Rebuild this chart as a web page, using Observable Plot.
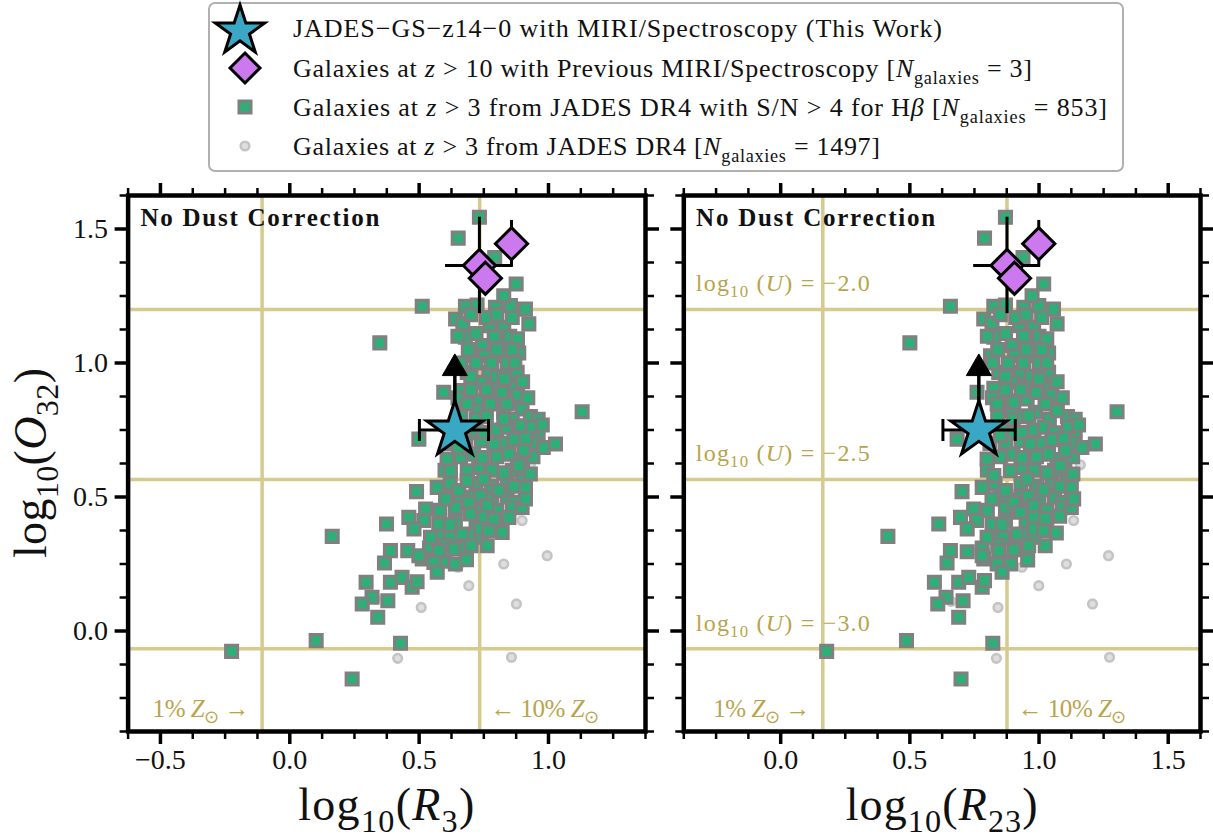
<!DOCTYPE html>
<html><head><meta charset="utf-8">
<script src="https://cdn.jsdelivr.net/npm/d3@7"></script>
<script src="https://cdn.jsdelivr.net/npm/@observablehq/plot@0.6"></script>
<style>
body{margin:0;background:#fff;}
#wrap{position:relative;width:1213px;height:838px;overflow:hidden;font-family:"Liberation Serif",serif;}
#wrap svg{position:absolute;overflow:visible;}
</style></head><body><div id="wrap"></div>
<script>
// ---------------- DATA ----------------
// JADES DR4 galaxies with S/N>4 for Hbeta : [log10 R3, log10 O32]
const sqLeft = [
[0.733,1.544],[0.651,1.466],[0.792,1.394],[0.875,1.295],[0.512,1.212],[0.348,1.075],[0.679,1.212],[0.724,1.216],[0.795,1.208],[0.853,1.214],[0.827,1.251],[0.911,1.201],[0.924,1.146],[0.641,1.164],[0.669,1.146],[0.773,1.139],[0.827,1.133],[0.679,1.096],[0.744,1.065],[0.827,1.077],[0.699,1.027],[0.753,1.027],[0.821,1.027],[0.885,1.037],[0.686,0.965],[0.769,0.965],[0.847,0.984],[0.879,0.965],[0.737,0.928],[0.789,0.915],[0.866,0.909],[0.595,0.891],[0.660,0.897],[0.679,0.853],[0.724,0.859],[0.789,0.866],[0.853,0.853],[0.898,0.828],[0.724,0.822],[1.130,0.818],[0.827,0.816],
[0.70,1.18],[0.76,1.17],[0.80,1.18],[0.86,1.17],[0.65,1.10],[0.72,1.11],[0.79,1.10],[0.85,1.10],[0.88,1.09],[0.69,1.05],[0.80,1.05],[0.86,1.05],[0.66,1.00],[0.72,1.00],[0.78,1.00],[0.84,1.00],[0.87,1.00],[0.70,0.95],[0.80,0.95],[0.83,0.94],[0.90,0.93],[0.70,0.90],[0.76,0.90],[0.82,0.89],[0.88,0.88],[0.65,0.87],[0.92,0.87],[0.66,0.80],[0.72,0.79],[0.76,0.80],[0.86,0.79],[0.93,0.80],[0.96,0.79],[0.68,0.75],[0.72,0.74],[0.80,0.75],[0.84,0.76],[0.88,0.74],[0.96,0.74],[0.62,0.70],[0.68,0.70],[0.74,0.71],[0.82,0.70],[0.94,0.70],[0.66,0.65],[0.71,0.66],[0.80,0.65],[0.88,0.64],[0.94,0.65],[0.60,0.60],[0.73,0.61],[0.78,0.60],[0.86,0.60],[0.90,0.60],[0.62,0.55],[0.72,0.55],[0.78,0.54],[0.84,0.55],[0.90,0.56],[0.63,0.50],[0.66,0.49],[0.71,0.50],[0.78,0.49],[0.84,0.50],[0.87,0.48],[0.58,0.45],[0.64,0.46],[0.72,0.45],[0.80,0.45],[0.86,0.46],[0.64,0.41],[0.72,0.41],[0.80,0.40],[0.58,0.36],[0.62,0.35],[0.70,0.36],[0.74,0.35],[0.54,0.31],[0.60,0.32],[0.67,0.31],[0.60,0.26],[0.64,0.25],
[0.499,0.716],[0.686,0.847],[0.776,0.847],[0.840,0.847],[0.827,0.791],[0.892,0.766],[0.937,0.760],[0.976,0.769],[0.750,0.741],[0.789,0.698],[0.866,0.714],[0.911,0.719],[0.980,0.685],[1.027,0.698],[0.608,0.642],[0.653,0.685],[0.744,0.647],[0.847,0.660],[0.905,0.673],[0.885,0.617],[0.930,0.586],[0.686,0.598],[0.621,0.598],[0.827,0.590],[0.750,0.567],[0.570,0.536],[0.653,0.524],[0.686,0.561],[0.737,0.505],[0.808,0.524],[0.866,0.540],[0.911,0.536],[0.490,0.520],[0.602,0.493],[0.692,0.480],[0.763,0.468],[0.898,0.461],[0.911,0.493],[0.525,0.455],[0.460,0.424],[0.518,0.412],[0.576,0.399],[0.621,0.396],[0.698,0.437],[0.750,0.424],[0.789,0.418],[0.847,0.424],[0.374,0.399],[0.480,0.381],[0.544,0.350],[0.666,0.362],[0.737,0.381],[0.769,0.374],[0.821,0.368],[0.164,0.353],[0.389,0.300],[0.456,0.300],[0.512,0.269],[0.576,0.300],[0.634,0.306],[0.701,0.318],[0.763,0.318],[0.366,0.254],[0.499,0.281],[0.557,0.256],[0.683,0.266],[0.570,0.219],[0.295,0.182],[0.389,0.182],[0.434,0.200],[0.473,0.163],[0.492,0.184],[0.318,0.126],[0.280,0.101],[0.379,0.113],[0.340,0.051],[0.102,-0.036],[0.428,-0.046],[-0.225,-0.076],[0.241,-0.179]
];
// same sample : [log10 R23, log10 O32]
const sqRight = [
[0.870,1.544],[0.789,1.466],[0.938,1.394],[1.018,1.295],[0.657,1.212],[0.500,1.075],[0.825,1.212],[0.870,1.216],[0.941,1.208],[0.999,1.214],[0.973,1.251],[1.056,1.201],[1.070,1.146],[0.786,1.164],[0.818,1.149],[0.925,1.139],[0.979,1.133],[0.825,1.096],[0.896,1.065],[0.979,1.077],[0.812,1.027],[0.905,1.027],[0.973,1.027],[1.037,1.037],[0.844,0.965],[0.928,0.965],[1.005,0.984],[1.037,0.965],[0.896,0.928],[0.947,0.913],[1.018,0.909],[0.760,0.891],[0.825,0.906],[0.850,0.853],[0.896,0.859],[0.954,0.866],[1.024,0.853],[1.070,0.826],[0.896,0.822],[1.302,0.818],[0.986,0.816],
[0.85,1.18],[0.91,1.17],[0.95,1.18],[1.01,1.17],[0.80,1.10],[0.87,1.11],[0.94,1.10],[1.00,1.10],[1.03,1.09],[0.84,1.05],[0.95,1.05],[1.01,1.05],[0.82,1.00],[0.88,1.00],[0.94,1.00],[1.00,1.00],[1.03,1.00],[0.87,0.95],[0.97,0.95],[1.00,0.94],[1.07,0.93],[0.87,0.90],[0.93,0.90],[0.99,0.89],[1.05,0.88],[0.82,0.87],[1.09,0.87],[0.84,0.80],[0.90,0.79],[0.94,0.80],[1.04,0.79],[1.11,0.80],[1.14,0.79],[0.86,0.75],[0.90,0.74],[0.98,0.75],[1.02,0.76],[1.06,0.74],[1.14,0.74],[0.81,0.70],[0.87,0.70],[0.93,0.71],[1.01,0.70],[1.13,0.70],[0.85,0.65],[0.90,0.66],[0.99,0.65],[1.07,0.64],[1.13,0.65],[0.80,0.60],[0.93,0.61],[0.98,0.60],[1.06,0.60],[1.10,0.60],[0.83,0.55],[0.93,0.55],[0.99,0.54],[1.05,0.55],[1.11,0.56],[0.85,0.50],[0.88,0.49],[0.93,0.50],[1.00,0.49],[1.06,0.50],[1.09,0.48],[0.80,0.45],[0.87,0.46],[0.95,0.45],[1.03,0.45],[1.09,0.46],[0.87,0.41],[0.95,0.41],[1.03,0.40],[0.82,0.36],[0.86,0.35],[0.94,0.36],[0.98,0.35],[0.78,0.31],[0.84,0.32],[0.91,0.31],[0.85,0.26],[0.89,0.25],
[0.683,0.716],[0.838,0.847],[0.902,0.853],[0.960,0.803],[1.024,0.847],[1.070,0.822],[1.114,0.760],[1.153,0.769],[0.934,0.741],[0.966,0.698],[1.050,0.714],[1.095,0.719],[1.166,0.685],[1.218,0.698],[0.799,0.642],[0.850,0.729],[0.934,0.647],[1.037,0.660],[1.102,0.673],[1.082,0.617],[1.131,0.586],[0.889,0.598],[0.825,0.580],[1.031,0.590],[0.954,0.567],[0.780,0.536],[0.870,0.524],[0.960,0.503],[1.018,0.527],[1.082,0.540],[1.125,0.536],[0.702,0.520],[0.818,0.493],[0.902,0.480],[0.979,0.468],[1.125,0.461],[1.134,0.493],[0.747,0.455],[0.696,0.424],[0.758,0.412],[0.818,0.399],[0.857,0.396],[0.928,0.443],[0.979,0.424],[1.024,0.420],[1.080,0.428],[0.612,0.399],[0.722,0.381],[0.799,0.350],[0.915,0.362],[0.979,0.381],[1.018,0.374],[1.067,0.366],[0.415,0.353],[0.657,0.300],[0.722,0.296],[0.786,0.269],[0.844,0.300],[0.902,0.303],[0.960,0.318],[1.024,0.318],[0.644,0.254],[0.780,0.281],[0.838,0.250],[0.956,0.265],[0.857,0.219],[0.595,0.182],[0.689,0.182],[0.728,0.200],[0.780,0.163],[0.789,0.188],[0.640,0.126],[0.608,0.101],[0.706,0.113],[0.689,0.051],[0.487,-0.036],[0.821,-0.046],[0.178,-0.076],[0.698,-0.179]
];
// all JADES DR4 z>3 galaxies (visible ones)
const galLeft  = [[0.898,0.412],[0.995,0.281],[0.827,0.250],[0.650,0.238],[0.692,0.169],[0.876,0.101],[0.508,0.088],[0.417,-0.102],[0.857,-0.098],[0.93,0.62],[0.33,0.12]];
const galRight = [[1.134,0.412],[1.269,0.281],[1.106,0.250],[0.934,0.238],[0.999,0.169],[1.207,0.101],[0.841,0.088],[0.835,-0.102],[1.273,-0.098],[1.16,0.62],[0.66,0.11]];
// previous MIRI z>10 galaxies
const diaO32    = [1.364, 1.316, 1.445];
const diaO32Lo  = [1.184, null, 1.357];
const diaO32Hi  = [1.544, null, 1.532];
const diaR3     = [0.733, 0.756, 0.857];
const diaR3Lo   = [0.602, null, null];
const diaR3Hi   = [0.860, null, null];
const diaR23    = [0.876, 0.905, 0.999];
const diaR23Lo  = [0.747, null, null];
const diaR23Hi  = [1.005, null, null];
// JADES-GS-z14-0 (this work)
const starO32 = 0.750, starO32Limit = 0.980;
const starR3 = 0.638, starR3Lo = 0.501, starR3Hi = 0.768;
const starR23 = 0.767, starR23Lo = 0.628, starR23Hi = 0.908;
// reference lines
const zLinesR3  = [-0.107, 0.734];   // 1% and 10% Zsun
const zLinesR23 = [0.163, 0.876];
const uLines    = [1.200, 0.565, -0.066];
const uLabels   = ["−2.0", "−2.5", "−3.0"];
// ticks
const yMajor = [0, 0.5, 1.0, 1.5];
const yMinor = [-0.375,-0.25,-0.125,0.125,0.25,0.375,0.625,0.75,0.875,1.125,1.25,1.375,1.625];
const r3Major = [-0.5, 0, 0.5, 1.0];
const r3Minor = [-0.625,-0.375,-0.25,-0.125,0.125,0.25,0.375,0.625,0.75,0.875,1.125,1.25,1.375];
const r23Major = [0, 0.5, 1.0, 1.5];
const r23Minor = [-0.375,-0.25,-0.125,0.125,0.25,0.375,0.625,0.75,0.875,1.125,1.25,1.375,1.625];
const legendRows = [
  [["JADES−GS−z14−0 with MIRI/Spectroscopy (This Work)",""]],
  [["Galaxies at ",""],["z","i"],[" > 10 with Previous MIRI/Spectroscopy [",""],["N","i"],["galaxies","s"],[" = 3]",""]],
  [["Galaxies at ",""],["z","i"],[" > 3 from JADES DR4 with S/N > 4 for H",""],["β","i"],[" [",""],["N","i"],["galaxies","s"],[" = 853]",""]],
  [["Galaxies at ",""],["z","i"],[" > 3 from JADES DR4 [",""],["N","i"],["galaxies","s"],[" = 1497]",""]]
];

// ---------------- STYLE ----------------
const FONT = "'Liberation Serif', serif";
const GREEN = "#2eaf78", SQEDGE = "#808080", CYAN = "#3aa8c4", PURPLE = "#cc78ee";
const GOLD_LINE = "#d6ca8c", GOLD_TEXT = "#b8a44a";
const GAL_FILL = "#dedede", GAL_EDGE = "#c4c4c4";
const fmt = d3.format(".1f");
const vbar = {draw(ctx, size){ const h = Math.sqrt(size/Math.PI); ctx.moveTo(0,-h); ctx.lineTo(0,h); }};

function rich(sel, parts, size) {
  let shifted = false;
  for (const [t, s] of parts) {
    const sub = s.includes("s");
    const ts = sel.append("tspan").text(t)
      .attr("font-style", s.includes("i") ? "italic" : "normal")
      .attr("font-size", sub ? size*0.7 : size);
    if (sub && !shifted) ts.attr("dy", size*0.25);
    if (!sub && shifted) ts.attr("dy", -size*0.25);
    shifted = sub;
  }
  return sel;
}

const wrap = document.getElementById("wrap");
const TOP = 170, H = 668, MT = 25, MB = 107;

function panel(c) {
  const sq = c.sq.map(([x,y]) => ({x,y}));
  const gal = c.gal.map(([x,y]) => ({x,y}));
  const dia = c.dX.map((x,i) => ({x, y: diaO32[i], xlo: c.dXlo[i], xhi: c.dXhi[i], ylo: diaO32Lo[i], yhi: diaO32Hi[i]}));
  const star = [{x: c.sX, y: starO32, xlo: c.sXlo, xhi: c.sXhi, ylim: starO32Limit}];
  const ax = (anchor, ticks, size, sw, labels, extra={}) => {
    const isX = anchor === "top" || anchor === "bottom";
    const f = isX ? Plot.axisX : Plot.axisY;
    return f(ticks, Object.assign({anchor, tickSize: size, strokeWidth: sw, stroke: "black",
      tickFormat: labels ? fmt : () => "", label: null, fontSize: 28, fill: "#111"}, extra));
  };
  const svg = Plot.plot({
    width: c.width, height: H,
    marginLeft: c.mL, marginRight: c.mR, marginTop: MT, marginBottom: MB,
    x: {domain: c.xDomain, axis: null},
    y: {domain: [-0.375, 1.625], axis: null},
    style: {fontFamily: FONT, background: "transparent", overflow: "visible", color: "black"},
    marks: [
      Plot.ruleX(c.zLines, {stroke: GOLD_LINE, strokeWidth: 3.5}),
      Plot.ruleY(uLines, {stroke: GOLD_LINE, strokeWidth: 3.5}),
      Plot.dot(gal, {x: "x", y: "y", r: 4.3, fill: GAL_FILL, stroke: GAL_EDGE, strokeWidth: 2.6}),
      Plot.dot(sq, {x: "x", y: "y", symbol: "square", r: 6.8, fill: GREEN, stroke: SQEDGE, strokeWidth: 3}),
      Plot.ruleY(dia.filter(d => d.xlo != null), {y: "y", x1: "xlo", x2: "xhi", stroke: "black", strokeWidth: 3}),
      Plot.ruleX(dia.filter(d => d.ylo != null), {x: "x", y1: "ylo", y2: "yhi", stroke: "black", strokeWidth: 3}),
      Plot.dot(dia, {x: "x", y: "y", symbol: "diamond2", r: 14.5, fill: PURPLE, stroke: "black", strokeWidth: 3, strokeLinejoin: "miter"}),
      Plot.ruleY(star, {y: "y", x1: "xlo", x2: "xhi", stroke: "black", strokeWidth: 3}),
      Plot.dot(star, {x: "xlo", y: "y", symbol: vbar, r: 11, fill: "none", stroke: "black", strokeWidth: 3}),
      Plot.dot(star, {x: "xhi", y: "y", symbol: vbar, r: 11, fill: "none", stroke: "black", strokeWidth: 3}),
      Plot.ruleX(star, {x: "x", y1: "y", y2: "ylim", stroke: "black", strokeWidth: 3.5}),
      Plot.dot(star, {x: "x", y: "ylim", symbol: "triangle", r: 9.3, fill: "black", stroke: "black", strokeWidth: 1}),
      Plot.dot(star, {x: "x", y: "y", symbol: "star", r: 17.6, fill: CYAN, stroke: "black", strokeWidth: 3, strokeLinejoin: "miter"}),
      ax("bottom", c.xMajor, 13, 3.5, true, {tickPadding: 5}),
      ax("bottom", c.xMinor, 8, 2.5, false),
      ax("top", c.xMajor, 13, 3.5, false),
      ax("top", c.xMinor, 8, 2.5, false),
      ax("left", yMajor, 13, 3.5, c.yLabels, {tickPadding: 7}),
      ax("left", yMinor, 8, 2.5, false),
      ax("right", yMajor, 13, 3.5, false),
      ax("right", yMinor, 8, 2.5, false),
      Plot.frame({stroke: "black", strokeWidth: 4.5})
    ]
  });
  svg.style.left = c.left + "px";
  svg.style.top = TOP + "px";
  wrap.appendChild(svg);
  const sx = svg.scale("x"), sy = svg.scale("y");
  const g = d3.select(svg).append("g").attr("font-family", FONT).attr("text-anchor", "start");
  const fx0 = c.mL, fx1 = c.width - c.mR, fy0 = MT, fy1 = H - MB;
  // panel title
  g.append("text").attr("x", fx0 + 12.8).attr("y", fy0 + 31).attr("text-anchor", "start")
    .attr("font-size", 25).attr("font-weight", "bold")
    .attr("fill", "#111").attr("textLength", 239).attr("lengthAdjust", "spacing").text("No Dust Correction");
  // metallicity labels
  rich(g.append("text").attr("x", sx.apply(c.zLines[0]) - 12).attr("y", fy1 - 14.5).attr("text-anchor", "end")
    .attr("fill", GOLD_TEXT).attr("textLength", 97).attr("lengthAdjust", "spacing"),
    [["1% ",""],["Z","i"],["⊙","s"],[" →",""]], 25);
  rich(g.append("text").attr("x", sx.apply(c.zLines[1]) + 11).attr("y", fy1 - 14.5).attr("text-anchor", "start")
    .attr("fill", GOLD_TEXT).attr("textLength", 109).attr("lengthAdjust", "spacing"),
    [["← 10% ",""],["Z","i"],["⊙","s"]], 25);
  if (c.uText) {
    uLines.forEach((u, i) => {
      rich(g.append("text").attr("x", fx0 + 12.5).attr("y", sy.apply(u) - 17.6).attr("text-anchor", "start")
        .attr("fill", GOLD_TEXT).attr("textLength", 174).attr("lengthAdjust", "spacing"),
        [["log",""],["10","s"],[" (",""],["U","i"],[") = " + uLabels[i],""]], 24);
    });
  }
  // axis titles
  rich(g.append("text").attr("x", (fx0 + fx1)/2).attr("y", 650).attr("text-anchor", "middle").attr("fill", "#111")
    .attr("textLength", c.xTitleLen).attr("lengthAdjust", "spacing"),
    [["log",""],["10","s"],["(",""],["R","i"],[c.xSub,"s"],[")",""]], 46);
  if (c.yLabels) {
    rich(g.append("text").attr("transform", `translate(46,${(fy0+fy1)/2}) rotate(-90)`).attr("text-anchor", "middle")
      .attr("fill", "#111").attr("textLength", 190).attr("lengthAdjust", "spacing"),
      [["log",""],["10","s"],["(",""],["O","i"],["32","s"],[")",""]], 46);
  }
}

panel({left: 0, width: 660, mL: 127.6, mR: 15, xDomain: [-0.625, 1.375], xMajor: r3Major, xMinor: r3Minor,
  sq: sqLeft, gal: galLeft, dX: diaR3, dXlo: diaR3Lo, dXhi: diaR3Hi, sX: starR3, sXlo: starR3Lo, sXhi: starR3Hi,
  zLines: zLinesR3, yLabels: true, uText: false, xSub: "3", xTitleLen: 176});
panel({left: 660, width: 553, mL: 23.3, mR: 13, xDomain: [-0.375, 1.625], xMajor: r23Major, xMinor: r23Minor,
  sq: sqRight, gal: galRight, dX: diaR23, dXlo: diaR23Lo, dXhi: diaR23Hi, sX: starR23, sXlo: starR23Lo, sXhi: starR23Hi,
  zLines: zLinesR23, yLabels: false, uText: true, xSub: "23", xTitleLen: 192});

// ---------------- LEGEND ----------------
const leg = d3.select(wrap).append("svg").attr("width", 1213).attr("height", 176)
  .style("left", "0px").style("top", "0px").attr("font-family", FONT).attr("text-anchor", "start");
leg.append("rect").attr("x", 209).attr("y", 3).attr("width", 914).attr("height", 168).attr("rx", 6)
  .attr("fill", "white").attr("stroke", "#b0b0b0").attr("stroke-width", 2);
const sym = (type, R) => d3.symbol().type(type).size(Math.PI*R*R)();
const rowsY = [28, 68, 107, 146];
leg.append("path").attr("d", sym(d3.symbolStar, 15.5)).attr("transform", `translate(240,${rowsY[0]+3})`)
  .attr("fill", CYAN).attr("stroke", "black").attr("stroke-width", 3).attr("stroke-linejoin", "miter");
leg.append("path").attr("d", sym(d3.symbolDiamond2, 13.5)).attr("transform", `translate(245,${rowsY[1]})`)
  .attr("fill", PURPLE).attr("stroke", "black").attr("stroke-width", 3);
leg.append("path").attr("d", sym(d3.symbolSquare, 6.8)).attr("transform", `translate(245,${rowsY[2]})`)
  .attr("fill", GREEN).attr("stroke", SQEDGE).attr("stroke-width", 3);
leg.append("path").attr("d", sym(d3.symbolCircle, 4.3)).attr("transform", `translate(245,${rowsY[3]})`)
  .attr("fill", GAL_FILL).attr("stroke", GAL_EDGE).attr("stroke-width", 2.6);
const legLens = [649, 739, 814, 587];
legendRows.forEach((parts, i) => {
  rich(leg.append("text").attr("x", 293).attr("y", rowsY[i] + 9).attr("fill", "#111")
    .attr("textLength", legLens[i]).attr("lengthAdjust", "spacing"), parts, 26);
});
</script></body></html>
